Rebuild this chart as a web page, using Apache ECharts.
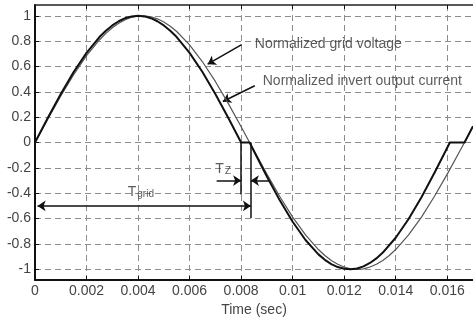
<!DOCTYPE html>
<html>
<head>
<meta charset="utf-8">
<script src="https://cdn.jsdelivr.net/npm/echarts@6/dist/echarts.min.js"></script>
<style>
html,body{margin:0;padding:0;background:#fff;}
#c{width:473px;height:322px;}
</style>
</head>
<body>
<div id="c"></div>
<script>
// ---- data ----
const xTicks = [0, 0.002, 0.004, 0.006, 0.008, 0.01, 0.012, 0.014, 0.016];
const yTicks = [-1, -0.8, -0.6, -0.4, -0.2, 0, 0.2, 0.4, 0.6, 0.8, 1];

const voltageT = [0,0.0005,0.001,0.0015,0.002,0.0025,0.00275,0.003,0.00325,0.0035,0.00375,0.004,0.00425,0.0045,0.00475,0.005,0.00525,0.0055,0.006,0.0065,0.007,0.0075,0.008,0.00833,0.0085,0.009,0.0095,0.01,0.0105,0.011,0.01125,0.0115,0.01175,0.012,0.01225,0.0125,0.01275,0.013,0.01325,0.0135,0.01375,0.014,0.0145,0.015,0.0155,0.016,0.0165,0.01667,0.017];
const voltageV = [0,0.187,0.368,0.536,0.685,0.809,0.861,0.905,0.941,0.969,0.988,0.998,1.0,0.992,0.976,0.951,0.918,0.876,0.771,0.637,0.482,0.309,0.125,0,-0.063,-0.249,-0.426,-0.588,-0.729,-0.844,-0.891,-0.930,-0.960,-0.982,-0.996,-1.0,-0.996,-0.982,-0.960,-0.930,-0.891,-0.844,-0.729,-0.588,-0.426,-0.249,-0.063,0,0.126];

const currentT = [0,0.0005,0.001,0.0015,0.002,0.0025,0.00275,0.003,0.00325,0.0035,0.00375,0.004,0.00425,0.0045,0.00475,0.005,0.00525,0.0055,0.006,0.0065,0.007,0.0075,0.008,0.00833,0.0085,0.009,0.0095,0.01,0.0105,0.011,0.01125,0.0115,0.01175,0.012,0.01225,0.0125,0.01275,0.013,0.01325,0.0135,0.014,0.0145,0.015,0.0155,0.016,0.0161,0.01667,0.017];
const currentV = [0,0.195,0.383,0.556,0.707,0.832,0.882,0.924,0.957,0.981,0.995,1.0,0.995,0.981,0.957,0.924,0.882,0.832,0.707,0.556,0.383,0.195,0,0,-0.069,-0.268,-0.456,-0.625,-0.769,-0.882,-0.925,-0.959,-0.982,-0.996,-1.0,-0.994,-0.977,-0.950,-0.914,-0.868,-0.751,-0.603,-0.431,-0.240,-0.041,0,0,0.129];

// annotations (data coordinates)
const arrowLines = [
  {from:[0.00802,0.772], to:[0.00670,0.618], head:['none','arrow']},
  {from:[0.00853,0.448], to:[0.00729,0.324], head:['none','arrow']},
  {from:[0.00705,-0.30], to:[0.0080,-0.30], head:['none','arrow']},
  {from:[0.00910,-0.30], to:[0.00838,-0.30], head:['none','arrow']},
  {from:[0.0001,-0.50], to:[0.00838,-0.50], head:['arrow','arrow']}
];
const plainLines = [
  {from:[0.0080,0], to:[0.0080,-0.41]},
  {from:[0.00838,0], to:[0.00838,-0.595]}
];
const textLabels = [
  {pos:[0.00853,0.78], text:'Normalized grid voltage'},
  {pos:[0.00884,0.487], text:'Normalized invert output current'},
  {pos:[0.00360,-0.385], text:'{t|T}{s|grid}'},
  {pos:[0.00700,-0.20], text:'{t|T}{s|Z}'}
];

const zip = (a, b) => a.map((v, i) => [v, b[i]]);
const FONT = '"Liberation Sans", Arial, sans-serif';
const labelColor = '#444';

const chart = echarts.init(document.getElementById('c'), null, {renderer: 'canvas'});
chart.setOption({
  animation: false,
  backgroundColor: '#fff',
  grid: {left: 35, right: 0, top: 5, bottom: 35, show: false},
  xAxis: [{
    type: 'value', min: 0, max: 0.017, position: 'bottom',
    name: 'Time (sec)', nameLocation: 'middle', nameGap: 17,
    nameTextStyle: {fontFamily: FONT, fontSize: 14, color: labelColor},
    axisLine: {show: true, onZero: false, lineStyle: {color: '#111', width: 2}},
    axisTick: {show: true, inside: true, length: 4, customValues: xTicks, lineStyle: {color: '#111'}},
    axisLabel: {customValues: xTicks, fontFamily: FONT, fontSize: 14, color: labelColor, margin: 4},
    splitLine: {show: true, lineStyle: {color: '#8c8c8c', type: [6, 4], width: 1}}
  }, {
    type: 'value', min: 0, max: 0.017, position: 'top',
    axisLine: {show: true, onZero: false, lineStyle: {color: '#222', width: 1.5}},
    axisTick: {show: true, inside: true, length: 4, customValues: xTicks, lineStyle: {color: '#111'}},
    axisLabel: {show: false},
    splitLine: {show: false}
  }],
  yAxis: [{
    type: 'value', min: -1.085, max: 1.085,
    axisLine: {show: true, onZero: false, lineStyle: {color: '#111', width: 2}},
    axisTick: {show: true, inside: true, length: 4, customValues: yTicks, lineStyle: {color: '#111'}},
    axisLabel: {customValues: yTicks, fontFamily: FONT, fontSize: 14, color: labelColor, margin: 4},
    splitLine: {show: true, lineStyle: {color: '#8c8c8c', type: [6, 4], width: 1}}
  }],
  series: [{
    name: 'Normalized grid voltage', type: 'line', data: zip(voltageT, voltageV),
    showSymbol: false, smooth: false, clip: false,
    lineStyle: {color: '#555', width: 1.2, join: 'round'}
  }, {
    name: 'Normalized invert output current', type: 'line', data: zip(currentT, currentV),
    showSymbol: false, smooth: false, clip: false,
    lineStyle: {color: '#111', width: 2, join: 'round'}
  }, {
    type: 'lines', coordinateSystem: 'cartesian2d', xAxisIndex: 0, yAxisIndex: 0,
    symbolSize: 8,
    data: arrowLines.map(a => ({coords: [a.from, a.to], symbol: a.head})),
    lineStyle: {color: '#111', width: 1.5, opacity: 1}
  }, {
    type: 'lines', coordinateSystem: 'cartesian2d', xAxisIndex: 0, yAxisIndex: 0,
    symbol: ['none', 'none'],
    data: plainLines.map(a => ({coords: [a.from, a.to]})),
    lineStyle: {color: '#111', width: 1.5, opacity: 1}
  }, {
    type: 'scatter', symbolSize: 0, silent: true,
    data: textLabels.map(t => ({value: t.pos, name: t.text})),
    label: {
      show: true, position: 'right', distance: 0,
      formatter: p => p.name,
      fontFamily: FONT, fontSize: 14, color: '#333',
      rich: {
        t: {fontFamily: FONT, fontSize: 14, color: '#333', verticalAlign: 'bottom', lineHeight: 16},
        s: {fontFamily: FONT, fontSize: 10, color: '#333', verticalAlign: 'bottom', lineHeight: 14, padding: [0, 0, 0, 1]}
      }
    }
  }]
});
</script>
</body>
</html>
